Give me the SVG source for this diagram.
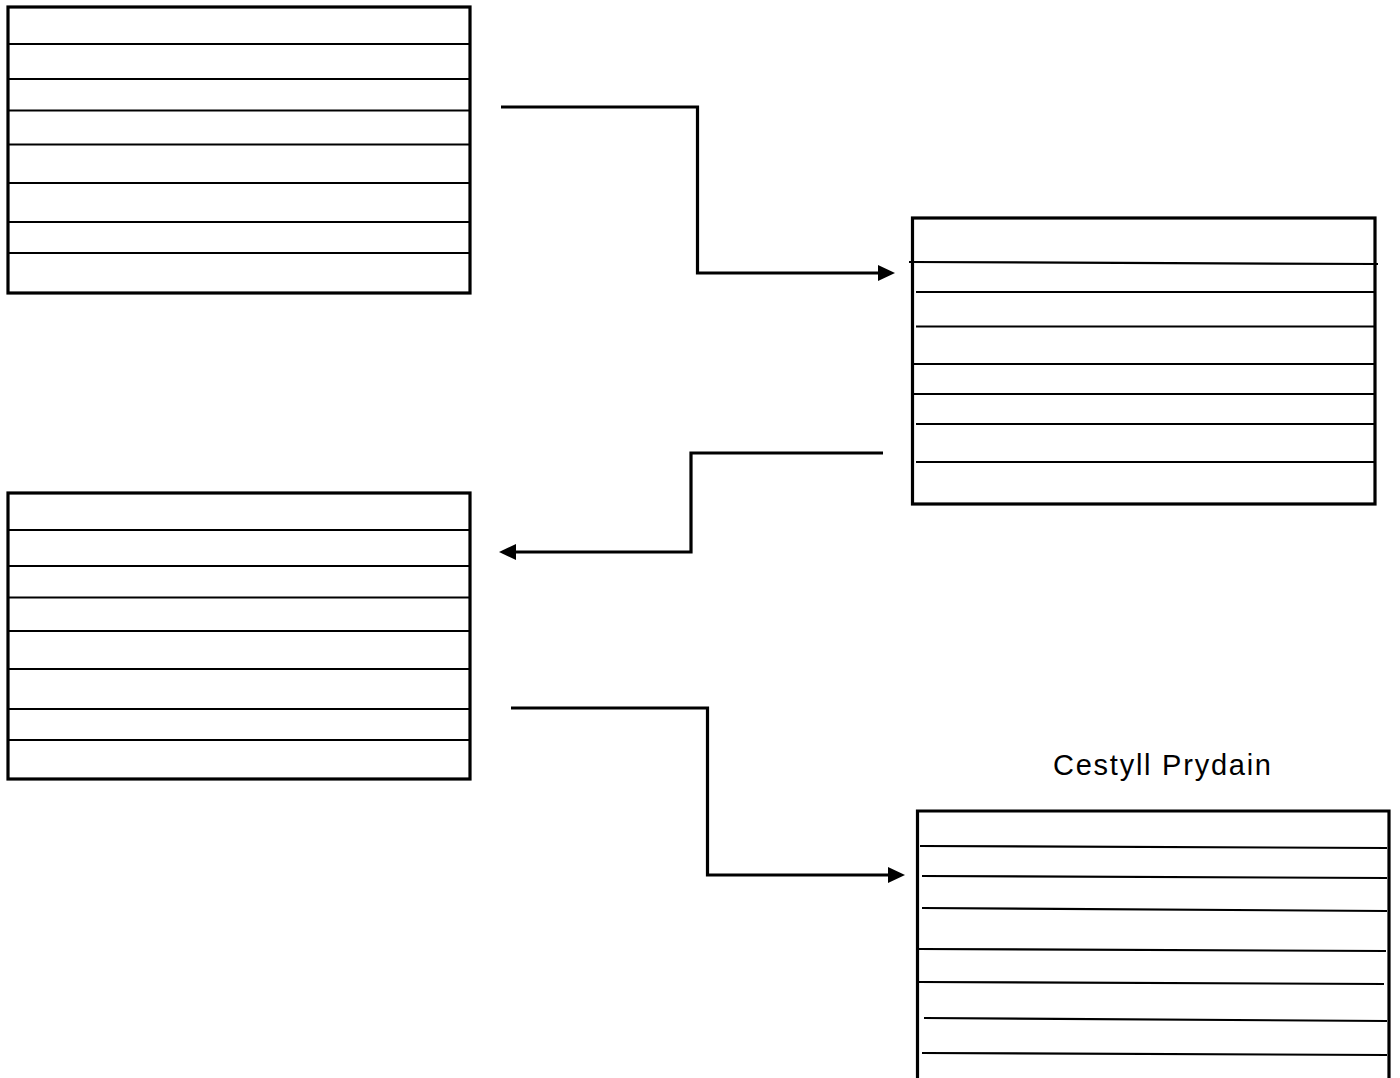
<svg xmlns="http://www.w3.org/2000/svg" width="1400" height="1078" viewBox="0 0 1400 1078">
<style>
.frame{fill:#fff;stroke:#000;stroke-width:3.2}
.row{stroke:#000;stroke-width:2.2;fill:none}
.conn{stroke:#000;stroke-width:3.2;fill:none;marker-end:url(#ah)}
.lbl{font-family:"Comic Sans MS","Liberation Sans",sans-serif;font-size:29px;fill:#000}
</style>
<defs>
<marker id="ah" markerUnits="userSpaceOnUse" markerWidth="17" markerHeight="18" refX="0" refY="9" orient="auto">
<path d="M0,1 L17,9 L0,17 z" fill="#000"/>
</marker>
</defs>
<rect width="1400" height="1078" fill="#fff"/>
<g id="box1">
<rect class="frame" x="8" y="7" width="462" height="286"/>
<path class="row" d="M8,44H470M8,79H470M8,110.5H470M8,144.5H470M8,183H470M8,222H470M8,253H470"/>
</g>
<g id="box2">
<rect class="frame" x="912.5" y="218" width="462.5" height="286"/>
<path class="row" d="M909,262L1378,264M916,292H1375M916,326.5H1375M912,364H1375M912,394H1375M916,424H1375M916,462H1375"/>
</g>
<g id="box3">
<rect class="frame" x="8" y="493" width="462" height="286"/>
<path class="row" d="M8,530H470M8,566H470M8,597.5H470M8,631H470M8,669H470M8,709H470M8,740H470"/>
</g>
<g id="box4">
<path class="frame" d="M917.5,1080V811H1389V1080"/>
<path class="row" d="M920,846L1387,848M922,876L1387,878M922,908L1387,911M919,949L1386,951M919,982L1384,984M924,1018L1387,1021M922,1053L1387,1055"/>
<text class="lbl" x="1053" y="775" textLength="218" lengthAdjust="spacing">Cestyll Prydain</text>
</g>
<g id="connectors">
<path class="conn" d="M501,107H697.5V273H878"/>
<path class="conn" d="M883,453H691V552H516"/>
<path class="conn" d="M511,708H707.5V875H888"/>
</g>
</svg>
